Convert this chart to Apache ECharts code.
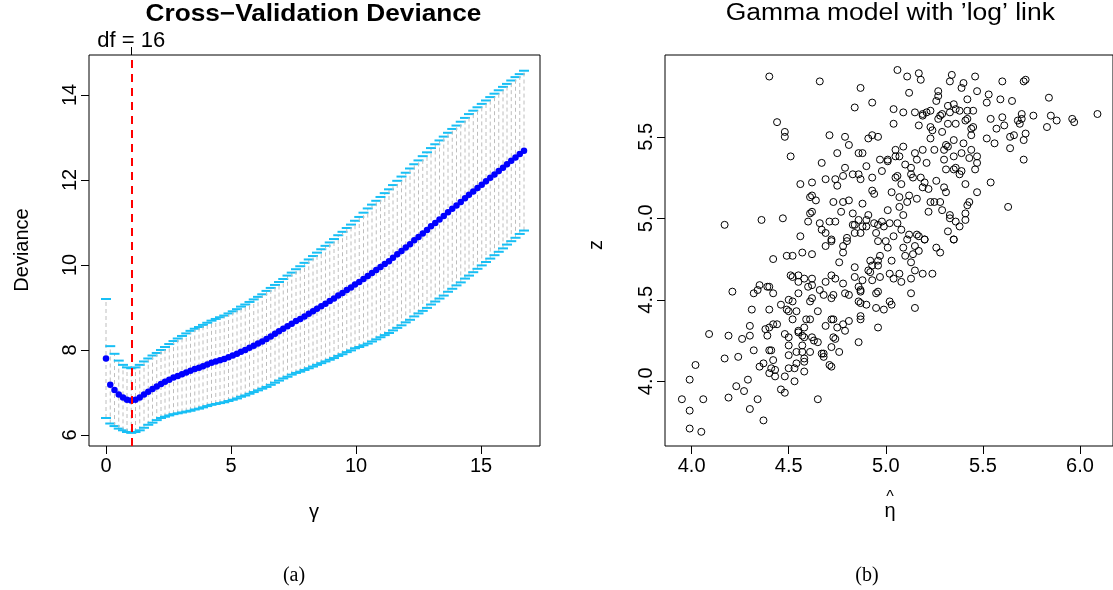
<!DOCTYPE html>
<html>
<head>
<meta charset="utf-8">
<script src="https://cdn.jsdelivr.net/npm/echarts@6/dist/echarts.min.js"></script>
<style>html,body{margin:0;padding:0;background:#fff}#c{width:1113px;height:590px}</style>
</head>
<body>
<div id="c"></div>
<script>
// ---------- Panel (a): cross-validation deviance ----------
const gammaVals = [0,0.17,0.34,0.51,0.68,0.84,1.01,1.18,1.35,1.52,1.69,1.86,2.03,2.20,2.36,2.53,2.70,2.87,3.04,3.21,
3.38,3.55,3.72,3.88,4.05,4.22,4.39,4.56,4.73,4.90,5.07,5.24,5.40,5.57,5.74,5.91,6.08,6.25,6.42,6.59,
6.76,6.92,7.09,7.26,7.43,7.60,7.77,7.94,8.11,8.28,8.44,8.61,8.78,8.95,9.12,9.29,9.46,9.63,9.80,9.96,
10.13,10.30,10.47,10.64,10.81,10.98,11.15,11.32,11.48,11.65,11.82,11.99,12.16,12.33,12.50,12.67,12.84,13.00,13.17,13.34,
13.51,13.68,13.85,14.02,14.19,14.36,14.52,14.69,14.86,15.03,15.20,15.37,15.54,15.71,15.88,16.04,16.21,16.38,16.55,16.72];
const cvMean = [7.80,7.18,7.06,6.95,6.88,6.83,6.81,6.83,6.88,6.95,7.02,7.08,7.14,7.20,7.25,7.30,7.35,7.39,7.43,7.47,
7.51,7.55,7.58,7.62,7.66,7.70,7.73,7.76,7.79,7.83,7.87,7.91,7.96,8.00,8.05,8.10,8.15,8.20,8.26,8.32,
8.38,8.44,8.50,8.56,8.62,8.68,8.73,8.79,8.85,8.91,8.97,9.03,9.09,9.15,9.21,9.28,9.34,9.41,9.47,9.54,
9.60,9.67,9.74,9.81,9.88,9.95,10.02,10.09,10.17,10.25,10.33,10.41,10.49,10.58,10.66,10.74,10.82,10.91,10.99,11.07,
11.15,11.24,11.32,11.40,11.48,11.57,11.65,11.73,11.81,11.89,11.97,12.05,12.13,12.21,12.29,12.37,12.45,12.53,12.61,12.69];
const cvLower = [6.40,6.27,6.21,6.15,6.11,6.07,6.05,6.07,6.11,6.17,6.24,6.29,6.35,6.40,6.43,6.46,6.49,6.51,6.53,6.55,
6.57,6.60,6.62,6.65,6.68,6.71,6.73,6.75,6.77,6.80,6.83,6.86,6.90,6.93,6.97,7.01,7.05,7.09,7.13,7.18,
7.23,7.28,7.33,7.37,7.42,7.46,7.49,7.53,7.57,7.61,7.65,7.69,7.73,7.77,7.81,7.86,7.90,7.95,7.99,8.04,
8.07,8.11,8.15,8.20,8.25,8.30,8.35,8.40,8.46,8.52,8.58,8.65,8.71,8.79,8.86,8.92,8.99,9.07,9.14,9.21,
9.28,9.37,9.44,9.52,9.59,9.68,9.75,9.83,9.91,9.99,10.07,10.15,10.23,10.31,10.39,10.48,10.56,10.64,10.73,10.81];
const cvUpper = [9.20,8.09,7.91,7.75,7.65,7.59,7.57,7.59,7.65,7.73,7.80,7.87,7.93,8.00,8.07,8.14,8.21,8.27,8.33,8.39,
8.45,8.50,8.54,8.59,8.64,8.69,8.73,8.77,8.81,8.86,8.91,8.96,9.02,9.07,9.13,9.19,9.25,9.31,9.39,9.46,
9.53,9.60,9.67,9.75,9.82,9.90,9.97,10.05,10.13,10.21,10.29,10.37,10.45,10.53,10.61,10.70,10.78,10.87,10.95,11.04,
11.13,11.23,11.33,11.42,11.51,11.60,11.69,11.78,11.88,11.98,12.08,12.17,12.27,12.37,12.46,12.56,12.65,12.75,12.84,12.93,
13.02,13.11,13.20,13.28,13.37,13.46,13.55,13.63,13.71,13.79,13.87,13.95,14.03,14.11,14.19,14.26,14.34,14.42,14.49,14.57];
const gammaTicks = [0, 5, 10, 15];
const devianceTicks = [6, 8, 10, 12, 14];
const dfGamma = 1.01;
const dfLabel = 'df = 16';

// ---------- Panel (b): Gamma model scatter ----------
const etaHat = [
4.40,4.66,4.87,4.84,4.44,4.48,4.48,4.71,4.79,4.81,4.91,4.51,4.67,4.75,4.86,4.88,4.90,4.79,4.78,4.83,
4.86,4.87,4.69,4.74,4.75,4.56,4.62,4.61,4.62,4.64,4.73,4.78,4.81,4.88,4.77,4.83,4.91,4.61,4.62,4.60,
4.66,4.71,4.74,4.86,4.90,4.83,4.84,4.88,4.84,4.87,4.90,4.17,4.36,4.47,4.56,4.67,4.69,4.72,4.80,
4.69,4.72,4.78,4.78,4.80,4.42,4.49,4.52,4.57,4.62,4.76,4.84,4.91,4.51,4.52,4.55,4.58,4.62,4.55,4.60,
4.62,4.69,4.72,4.74,4.78,4.66,4.68,4.72,4.73,4.79,4.81,4.84,4.86,4.87,4.87,4.88,4.86,4.87,4.90,4.87,
4.87,4.81,4.78,4.75,4.79,4.73,4.74,4.72,4.76,4.86,4.72,4.73,4.69,4.65,4.61,4.59,4.61,4.62,4.55,4.52,
4.50,4.46,4.49,4.50,4.54,4.52,4.55,4.55,4.58,4.57,4.58,4.62,4.63,4.65,4.48,4.50,4.50,4.50,4.54,4.57,
4.57,4.58,4.61,4.58,4.54,4.53,4.50,4.48,4.53,4.58,4.67,4.68,4.68,4.71,4.72,4.35,4.39,4.40,4.42,4.32,
4.34,4.21,4.40,4.31,4.30,4.42,4.44,4.38,4.39,4.40,4.30,4.26,4.19,4.09,4.32,4.40,4.41,4.42,4.37,4.35,
4.41,4.43,4.40,4.43,4.24,4.17,4.02,3.99,4.29,4.23,4.27,4.19,4.06,3.95,3.99,4.34,4.30,4.37,3.99,4.05,
4.46,4.48,4.65,
5.06,5.11,5.17,5.18,5.34,5.33,5.40,5.39,5.46,5.60,5.71,5.72,5.12,5.27,5.27,5.26,5.47,5.42,5.53,5.52,
5.59,5.65,5.84,4.93,5.04,5.09,5.15,5.19,5.21,5.23,5.19,5.28,5.29,5.27,5.32,5.35,5.36,5.33,5.38,5.42,
5.45,5.42,5.41,5.54,5.60,5.70,5.76,5.68,5.70,5.85,5.88,5.96,5.97,6.09,5.04,5.17,5.23,5.24,5.23,5.29,
5.32,5.36,5.45,5.44,5.44,5.57,5.61,5.69,5.83,5.64,5.66,5.72,5.71,5.52,5.56,5.64,5.71,4.93,4.96,5.05,
5.09,5.05,5.01,4.97,5.01,5.07,5.15,5.19,5.16,5.21,5.25,5.30,5.32,5.31,5.35,5.40,5.39,5.35,5.30,5.31,
5.35,5.36,5.38,5.39,5.44,5.47,5.47,5.43,5.46,5.54,5.47,5.63,4.93,4.98,5.05,5.06,5.08,5.10,5.13,5.14,
5.13,5.18,5.19,5.22,5.20,5.26,5.30,5.31,5.25,5.23,5.28,5.41,5.42,5.43,5.22,5.29,5.33,5.33,5.36,5.38,
5.41,5.41,4.93,4.94,5.03,5.07,5.12,5.16,5.11,5.01,5.07,5.09,5.02,5.08,4.98,4.94,4.96,4.99,4.95,5.06,
5.12,5.16,5.17,5.20,5.04,5.32,5.35,
4.96,5.00,5.11,5.20,5.35,5.01,5.09,5.15,5.17,5.26,5.28,5.14,5.10,4.97,4.96,5.03,5.13,4.92,4.93,4.96,
4.92,4.93,4.97,5.02,5.04,5.07,5.08,5.13,5.15,5.19,5.24,5.13,4.96,4.95,5.02,5.03,4.95,4.99,5.15,4.96];
const zVals = [
5.87,5.84,5.80,5.68,5.59,5.53,5.50,5.51,5.50,5.45,5.49,5.38,5.34,5.40,5.40,5.40,5.32,5.31,5.26,5.27,
5.27,5.24,5.24,5.24,5.20,5.21,5.22,5.13,5.14,5.11,5.10,5.10,5.11,5.09,5.04,5.03,5.02,5.03,5.04,4.98,
4.97,4.98,4.98,4.99,4.99,4.96,4.96,4.95,4.91,4.91,4.95,4.96,4.99,5.00,4.89,4.93,4.91,4.87,4.88,
4.83,4.86,4.83,4.79,4.86,4.75,4.77,4.77,4.79,4.78,4.73,4.70,4.68,4.65,4.64,4.65,4.63,4.63,4.61,4.58,
4.59,4.61,4.65,4.63,4.60,4.56,4.53,4.51,4.53,4.54,4.53,4.64,4.58,4.56,4.55,4.62,4.49,4.48,4.47,4.40,
4.38,4.37,4.35,4.33,4.31,4.27,4.26,4.21,4.18,4.24,4.38,4.38,4.34,4.43,4.38,4.38,4.49,4.51,4.54,4.49,
4.50,4.47,4.44,4.43,4.43,4.38,4.31,4.30,4.33,4.28,4.27,4.27,4.25,4.24,4.29,4.27,4.22,4.16,4.18,4.18,
4.22,4.14,4.18,4.12,4.11,4.08,4.08,4.03,4.00,4.06,4.17,4.17,4.15,4.10,4.09,4.59,4.58,4.58,4.54,4.54,
4.56,4.55,4.44,4.44,4.34,4.35,4.35,4.32,4.28,4.33,4.28,4.26,4.28,4.29,4.19,4.19,4.19,4.13,4.11,4.09,
4.08,4.07,4.05,4.03,4.15,4.14,4.10,4.01,4.01,3.97,3.94,3.90,3.89,3.89,3.82,3.89,3.83,3.76,3.71,3.69,
3.95,3.93,3.89,
5.91,5.87,5.89,5.85,5.88,5.84,5.83,5.80,5.87,5.84,5.84,5.85,5.77,5.78,5.75,5.72,5.78,5.73,5.76,5.71,
5.73,5.72,5.74,5.71,5.67,5.65,5.65,5.64,5.65,5.66,5.63,5.63,5.64,5.61,5.69,5.70,5.67,5.65,5.66,5.66,
5.66,5.61,5.60,5.61,5.62,5.64,5.63,5.60,5.61,5.63,5.60,5.61,5.59,5.64,5.58,5.57,5.56,5.54,5.49,5.53,
5.58,5.58,5.56,5.55,5.51,5.55,5.57,5.58,5.56,5.50,5.51,5.52,5.48,5.49,5.46,5.43,5.36,5.51,5.50,5.42,
5.44,5.38,5.36,5.36,5.35,5.38,5.40,5.42,5.36,5.34,5.42,5.42,5.44,5.45,5.48,5.46,5.40,5.38,5.36,5.30,
5.30,5.31,5.27,5.29,5.42,5.38,5.34,5.37,5.30,5.22,5.16,5.07,5.25,5.29,5.25,5.26,5.21,5.33,5.31,5.25,
5.27,5.25,5.19,5.18,5.22,5.23,5.19,5.16,5.10,5.10,5.10,5.21,5.08,5.10,5.04,5.05,5.02,5.00,4.98,4.95,
5.03,4.99,5.17,5.15,5.16,5.13,5.14,5.12,5.10,5.05,5.07,5.02,4.97,4.93,4.98,4.97,4.96,4.95,4.91,4.97,
4.90,4.90,4.89,4.87,4.89,4.92,4.87,
4.86,4.86,4.87,4.87,4.87,4.82,4.82,4.83,4.80,4.82,4.79,4.78,4.77,4.77,4.74,4.74,4.73,4.74,4.71,4.71,
4.67,4.62,4.64,4.66,4.63,4.66,4.61,4.63,4.68,4.66,4.66,4.54,4.55,4.54,4.49,4.47,4.45,4.44,4.45,4.33];
const etaTicks = [4.0, 4.5, 5.0, 5.5, 6.0];
const zTicks = [4.0, 4.5, 5.0, 5.5];

// ---------- chart ----------
const FONT = '"Liberation Sans", Arial, Helvetica, sans-serif';
const chart = echarts.init(document.getElementById('c'), null, {renderer: 'canvas'});

function axisBase(extra) {
  return Object.assign({
    type: 'value', scale: true,
    axisLine: {show: false, onZero: false},
    splitLine: {show: false},
  }, extra);
}
const tickStyle = {show: true, length: 8, lineStyle: {color: '#000', width: 1}};
const labelStyle = {color: '#000', fontFamily: FONT, fontSize: 20};

const cvBars = gammaVals.map((g, i) => [g, cvLower[i], cvUpper[i]]);
const cvPoints = gammaVals.map((g, i) => [g, cvMean[i]]);
const scatterPts = etaHat.map((e, i) => [e, zVals[i]]);

const option = {
  animation: false,
  backgroundColor: '#fff',
  grid: [
    {left: 89, top: 55, width: 451, height: 391, show: true, borderColor: '#000', borderWidth: 1, backgroundColor: 'transparent'},
    {left: 665, top: 55, width: 451, height: 391, show: true, borderColor: '#000', borderWidth: 1, backgroundColor: 'transparent'}
  ],
  xAxis: [
    axisBase({gridIndex: 0, min: -0.68, max: 17.36,
      axisTick: Object.assign({customValues: gammaTicks}, tickStyle),
      axisLabel: Object.assign({customValues: gammaTicks, margin: 10}, labelStyle)}),
    axisBase({gridIndex: 0, position: 'top', min: -0.68, max: 17.36,
      axisTick: Object.assign({customValues: [dfGamma]}, tickStyle),
      axisLabel: Object.assign({customValues: [dfGamma], margin: 3, formatter: () => dfLabel}, labelStyle, {fontSize: 22})}),
    axisBase({gridIndex: 1, min: 3.863, max: 6.170,
      axisTick: Object.assign({customValues: etaTicks}, tickStyle),
      axisLabel: Object.assign({customValues: etaTicks, margin: 10, formatter: v => v.toFixed(1)}, labelStyle)})
  ],
  yAxis: [
    axisBase({gridIndex: 0, min: 5.741, max: 14.94,
      axisTick: Object.assign({customValues: devianceTicks}, tickStyle),
      axisLabel: Object.assign({customValues: devianceTicks, margin: 9, rotate: 90}, labelStyle)}),
    axisBase({gridIndex: 1, min: 3.603, max: 6.002,
      axisTick: Object.assign({customValues: zTicks}, tickStyle),
      axisLabel: Object.assign({customValues: zTicks, margin: 9, rotate: 90, formatter: v => v.toFixed(1)}, labelStyle)})
  ],
  series: [
    {
      type: 'custom', xAxisIndex: 0, yAxisIndex: 0, z: 2, silent: true,
      data: cvBars,
      renderItem: function (params, api) {
        const g = api.value(0);
        const lo = api.coord([g, api.value(1)]);
        const hi = api.coord([g, api.value(2)]);
        const hw = 5;
        return {
          type: 'group',
          children: [
            {type: 'line', shape: {x1: lo[0], y1: lo[1], x2: hi[0], y2: hi[1]},
             style: {stroke: '#BEBEBE', lineWidth: 1, lineDash: [4, 3]}},
            {type: 'line', shape: {x1: hi[0] - hw, y1: hi[1], x2: hi[0] + hw, y2: hi[1]},
             style: {stroke: '#18BFF5', lineWidth: 2}},
            {type: 'line', shape: {x1: lo[0] - hw, y1: lo[1], x2: lo[0] + hw, y2: lo[1]},
             style: {stroke: '#18BFF5', lineWidth: 2}}
          ]
        };
      }
    },
    {
      type: 'scatter', xAxisIndex: 0, yAxisIndex: 0, z: 3, silent: true,
      data: cvPoints, symbol: 'circle', symbolSize: 6.5,
      itemStyle: {color: '#0000FF', opacity: 1},
      markLine: {
        silent: true, symbol: ['none', 'none'], label: {show: false},
        lineStyle: {color: '#FF0000', width: 2, type: [8, 6], opacity: 1},
        data: [{xAxis: dfGamma}]
      }
    },
    {
      type: 'scatter', xAxisIndex: 2, yAxisIndex: 1, z: 3, silent: true,
      data: scatterPts, symbol: 'circle', symbolSize: 7,
      itemStyle: {color: 'rgba(0,0,0,0)', borderColor: '#000', borderWidth: 1, opacity: 1}
    }
  ],
  graphic: [
    {type: 'text', x: 313.5, y: 15, scaleX: 1.14, silent: true,
     style: {text: 'Cross\u2212Validation Deviance', font: 'bold 23px ' + FONT, fill: '#000', align: 'center', verticalAlign: 'middle'}},
    {type: 'text', x: 890.3, y: 13.5, scaleX: 1.15, silent: true,
     style: {text: 'Gamma model with \u2019log\u2019 link', font: '23px ' + FONT, fill: '#000', align: 'center', verticalAlign: 'middle'}},
    {type: 'text', x: 22, y: 250, rotation: Math.PI / 2, silent: true,
     style: {text: 'Deviance', font: '20px ' + FONT, fill: '#000', align: 'center', verticalAlign: 'middle'}},
    {type: 'text', x: 596, y: 245, rotation: Math.PI / 2, silent: true,
     style: {text: 'z', font: '20px ' + FONT, fill: '#000', align: 'center', verticalAlign: 'middle'}},
    {type: 'text', x: 314, y: 512, silent: true,
     style: {text: '\u03B3', font: '20px ' + FONT, fill: '#000', align: 'center', verticalAlign: 'middle'}},
    {type: 'text', x: 890, y: 511, silent: true,
     style: {text: '\u03B7', font: '20px ' + FONT, fill: '#000', align: 'center', verticalAlign: 'middle'}},
    {type: 'text', x: 890, y: 498, silent: true,
     style: {text: '^', font: '16px ' + FONT, fill: '#000', align: 'center', verticalAlign: 'middle'}},
    {type: 'text', x: 294, y: 576, silent: true,
     style: {text: '(a)', font: '20px "Liberation Serif", "DejaVu Serif", serif', fill: '#000', align: 'center', verticalAlign: 'middle'}},
    {type: 'text', x: 867, y: 576, silent: true,
     style: {text: '(b)', font: '20px "Liberation Serif", "DejaVu Serif", serif', fill: '#000', align: 'center', verticalAlign: 'middle'}}
  ]
};
chart.setOption(option);
</script>
</body>
</html>
